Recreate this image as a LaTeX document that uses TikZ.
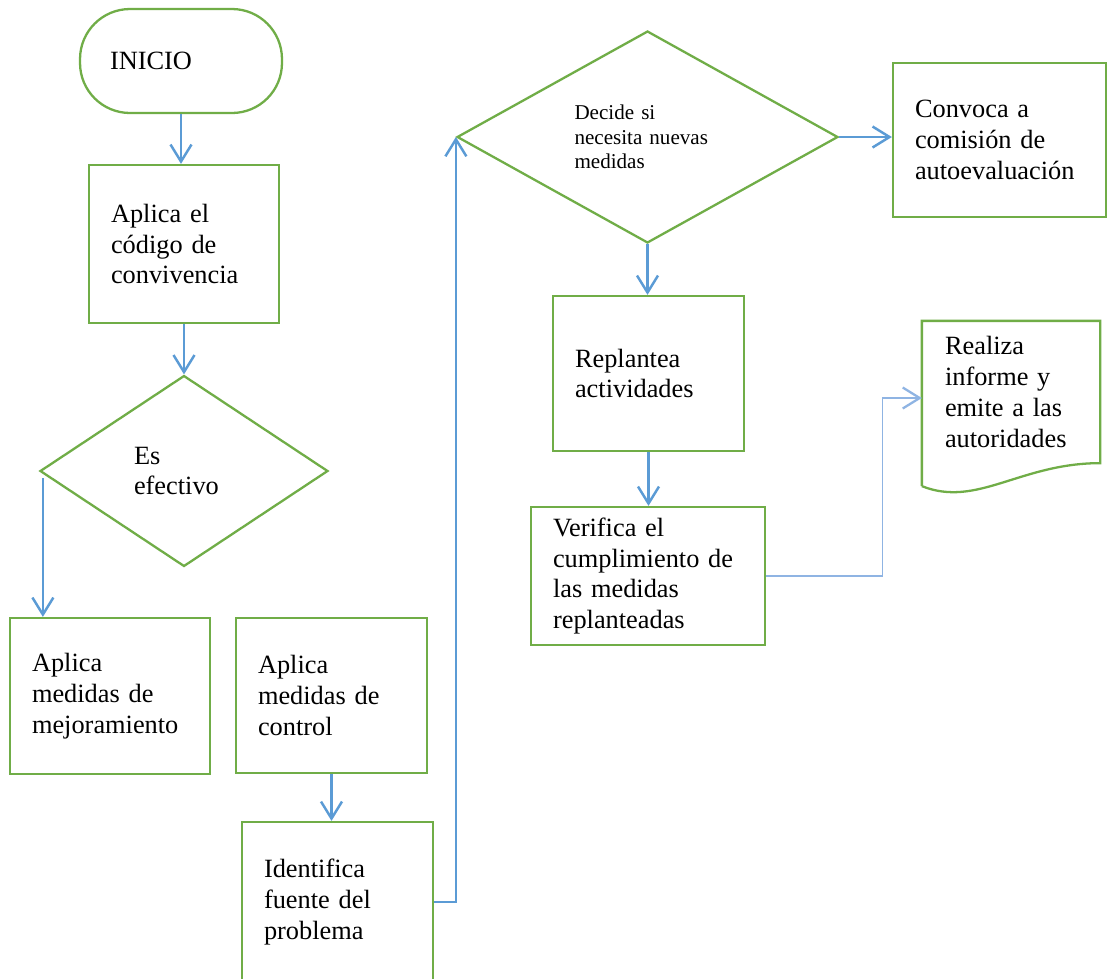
\documentclass[tikz,border=0pt]{standalone}
\usepackage{fontspec}
\setmainfont{Liberation Serif}
\usepackage{tikz}
\usetikzlibrary{shapes.geometric,arrows.meta,calc}
\definecolor{flgreen}{RGB}{112,173,71}
\definecolor{flblue}{RGB}{91,155,213}
\definecolor{flpale}{RGB}{143,180,227}

\begin{document}
\begin{tikzpicture}[x=0.02cm,y=-0.02cm,
  box/.style={draw=flgreen,line width=1.3pt,rectangle,align=left,inner xsep=0.44cm,font=\fontsize{15}{17.6}\selectfont},
  term/.style={box,rounded corners=1cm,inner xsep=0.6cm},
  deci/.style={draw=flgreen,line width=1.3pt,diamond,aspect=1.8,inner sep=1pt,align=left},
  flow/.style={draw=flblue,line width=1.4pt,-{Straight Barb[length=0.34cm,width=0.42cm]}},
  thinflow/.style={draw=flpale,line width=0.7pt,-{Straight Barb[length=0.34cm,width=0.42cm,line width=1.3pt]}}]
\useasboundingbox (0,0) rectangle (1108,978);
\clip (0,0) rectangle (1108,978);
\fill[white] (0,0) rectangle (1108,978);

% left column
\node[term,text width=2.84cm,minimum height=2.08cm] (ini) at (181,61) {INICIO};
\node[box,text width=2.92cm,minimum height=3.16cm] (cod) at (184,244) {Aplica el\\código de\\convivencia};
\node[deci,minimum width=5.76cm,minimum height=3.82cm,text width=2cm,font=\fontsize{15}{17.6}\selectfont] (efe) at (184,471) {Es\\efectivo};
\node[box,text width=3.12cm,minimum height=3.12cm] (mej) at (110,696) {Aplica\\medidas de\\mejoramiento};
\node[box,text width=2.94cm,minimum height=3.1cm] (con) at (331.5,695.5) {Aplica\\medidas de\\control};
\node[box,text width=2.94cm,minimum height=3.2cm] (ide) at (337.5,902) {Identifica\\fuente del\\problema};

% right part
\node[deci,minimum width=7.62cm,minimum height=4.24cm,text width=2.92cm,font=\fontsize{12}{14}\selectfont] (dec) at (647.5,137) {Decide si\\necesita nuevas\\medidas};
\node[box,text width=3.38cm,minimum height=3.08cm] (cvc) at (999.5,140) {Convoca a\\comisión de\\autoevaluación};
\node[box,text width=2.94cm,minimum height=3.1cm] (rep) at (648.5,373.5) {Replantea\\actividades};
\node[box,text width=3.8cm,minimum height=2.76cm] (ver) at (648,576) {Verifica el\\cumplimiento de\\las medidas\\replanteadas};
\node[box,draw=none,text width=2.64cm,minimum height=2.8cm] (inf) at (1011,392) {Realiza\\informe y\\emite a las\\autoridades};
% document shape
\draw[flgreen,line width=1.3pt] ($(inf.south west)+(0,23)$) -- (inf.north west) -- (inf.north east) -- (inf.south east)
  .. controls ($(inf.south east)+(-80,0)$) and ($(inf.south west)+(55,45)$) .. ($(inf.south west)+(0,23)$);

% connectors
\coordinate (efeo) at ($(efe.west)+(4,7)$);
\draw[flow] (ini.south) -- (ini.south |- cod.north);
\draw[flow] (cod.south) -- (efe.north);
\draw[flow] (efeo) -- (efeo |- mej.north);
\draw[flow] (con.south) -- (con.south |- ide.north);
\draw[flow] (ide.east) -| (dec.west);
\draw[flow] (dec.east) -- (dec.east -| cvc.west);
\draw[flow] (dec.south) -- (dec.south |- rep.north);
\draw[flow] (rep.south) -- (rep.south |- ver.north);
\draw[thinflow] (ver.east) -- ++(116,0) |- ($(inf.west)+(0,6)$);
\end{tikzpicture}
\end{document}
